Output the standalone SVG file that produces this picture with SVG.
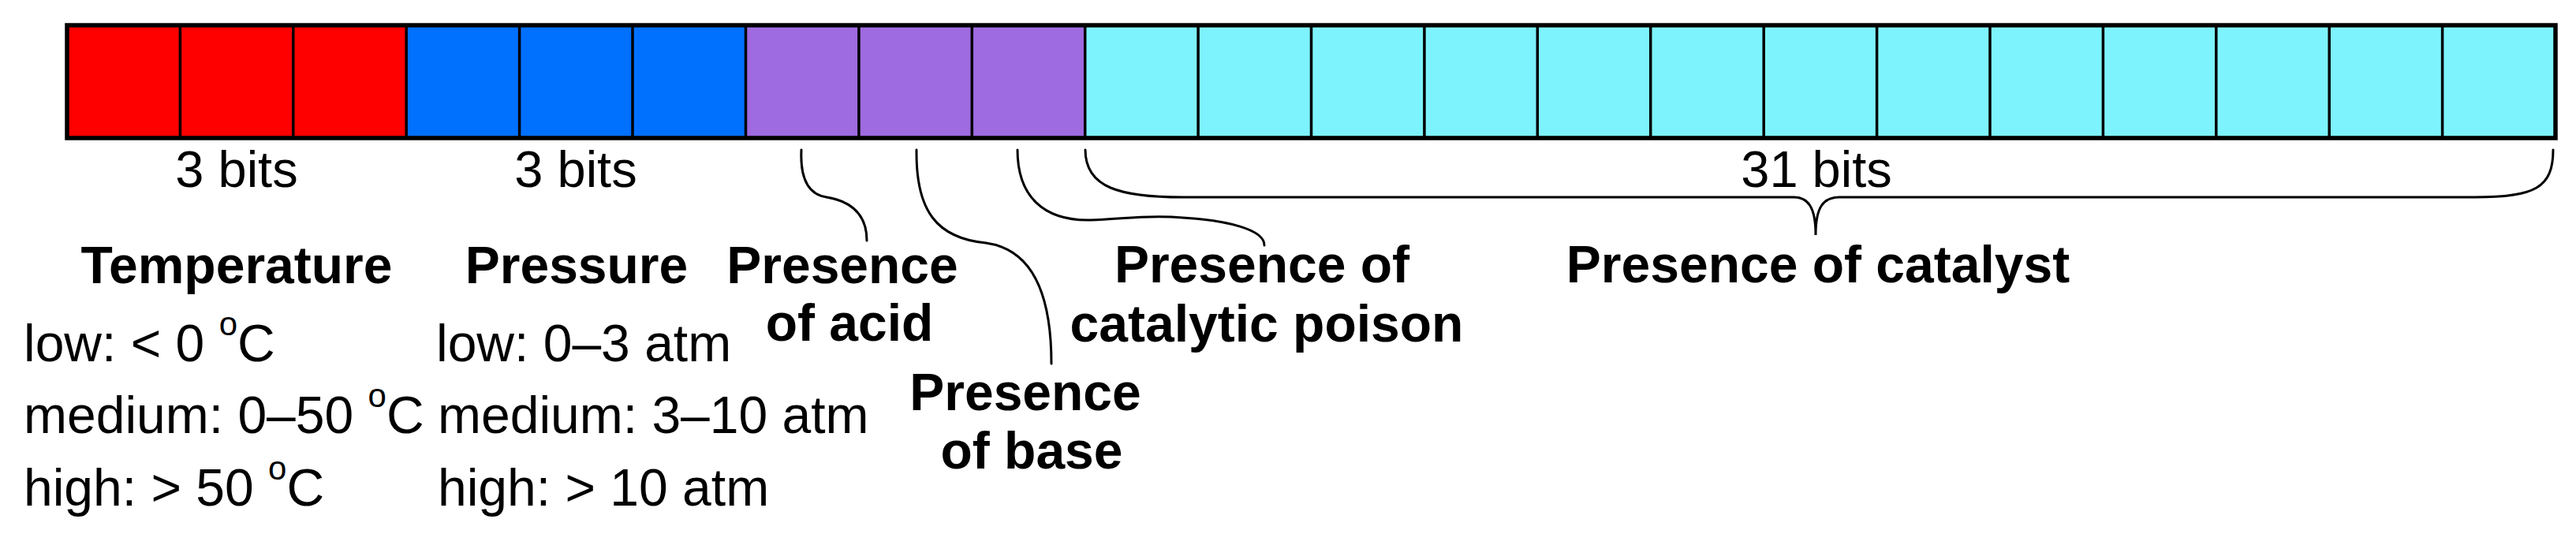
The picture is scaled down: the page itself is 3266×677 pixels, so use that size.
<svg xmlns="http://www.w3.org/2000/svg" width="3266" height="677" viewBox="0 0 3266 677">
<style>
.red{fill:#FF0000}.blue{fill:#0070FF}.purple{fill:#9E6BE0}.cyan{fill:#7DF4FD}
.div{stroke:#000;stroke-width:3.5}
.frame{fill:none;stroke:#000;stroke-width:5.5}
.conn{fill:none;stroke:#000;stroke-width:3;stroke-linecap:round}
.b{font-family:"Liberation Sans",Arial,sans-serif;font-weight:bold;font-size:66px;fill:#000;text-anchor:middle}
.r{font-family:"Liberation Sans",Arial,sans-serif;font-size:66px;fill:#000}
.rc{font-family:"Liberation Sans",Arial,sans-serif;font-size:65px;fill:#000;text-anchor:middle}
</style>
<rect width="3266" height="677" fill="#fff"/>
<g id="temperature">
<rect class="red" x="85" y="32" width="430.2" height="143"/>
<text class="rc" x="300" y="237">3 bits</text>
<text class="b" x="300" y="359">Temperature</text>
<text class="r" x="30" y="458">low: &lt; 0 <tspan font-size="42" dy="-33">o</tspan><tspan dy="33">C</tspan></text>
<text class="r" x="30" y="549">medium: 0–50 <tspan font-size="42" dy="-33">o</tspan><tspan dy="33">C</tspan></text>
<text class="r" x="30" y="641">high: &gt; 50 <tspan font-size="42" dy="-33">o</tspan><tspan dy="33">C</tspan></text>
</g>
<g id="pressure">
<rect class="blue" x="515.2" y="32" width="430.3" height="143"/>
<text class="rc" x="730" y="237">3 bits</text>
<text class="b" x="731" y="359">Pressure</text>
<text class="r" x="553" y="458">low: 0–3 atm</text>
<text class="r" x="555" y="549">medium: 3–10 atm</text>
<text class="r" x="555" y="641">high: &gt; 10 atm</text>
</g>
<g id="acid">
<rect class="purple" x="945.5" y="32" width="143.4" height="143"/>
<text class="b" x="1068" y="359">Presence</text>
<text class="b" x="1077" y="432">of acid</text>
</g>
<g id="base">
<rect class="purple" x="1088.9" y="32" width="143.4" height="143"/>
<text class="b" x="1300" y="520">Presence</text>
<text class="b" x="1308" y="594">of base</text>
</g>
<g id="poison">
<rect class="purple" x="1232.3" y="32" width="143.4" height="143"/>
<text class="b" x="1600" y="358">Presence of</text>
<text class="b" x="1606" y="433">catalytic poison</text>
</g>
<g id="catalyst">
<rect class="cyan" x="1375.7" y="32" width="1864.3" height="143"/>
<text class="rc" x="2303" y="237">31 bits</text>
<text class="b" x="2305" y="358">Presence of catalyst</text>
</g>
<g id="cell-dividers">
<path class="div" d="M228.4,32V175M371.8,32V175M515.2,32V175M658.6,32V175M802,32V175M945.5,32V175M1088.9,32V175M1232.3,32V175M1375.7,32V175M1519.1,32V175M1662.5,32V175M1805.9,32V175M1949.3,32V175M2092.7,32V175M2236.2,32V175M2379.6,32V175M2523,32V175M2666.4,32V175M2809.8,32V175M2953.2,32V175M3096.6,32V175"/>
<rect class="frame" x="85" y="32" width="3155" height="143"/>
</g>
<g id="connectors">
<path class="conn" d="M1016,190 C1014,232 1028,247 1048,250 C1072,254 1099,266 1099,305"/>
<path class="conn" d="M1162,190 C1161,268 1188,302 1250,308 C1302,315 1333,362 1333,461"/>
<path class="conn" d="M1290,190 C1290,248 1322,280 1382,279 C1420,278 1445,273 1485,275 C1562,279 1603,292 1603,311"/>
<path class="conn" d="M1376,190 C1376,238 1420,250 1500,250 L2274,250 C2292,250 2302,262 2302,298 C2302,262 2312,250 2332,250 L3138,250 C3214,250 3237,238 3237,190"/>
</g>
</svg>
